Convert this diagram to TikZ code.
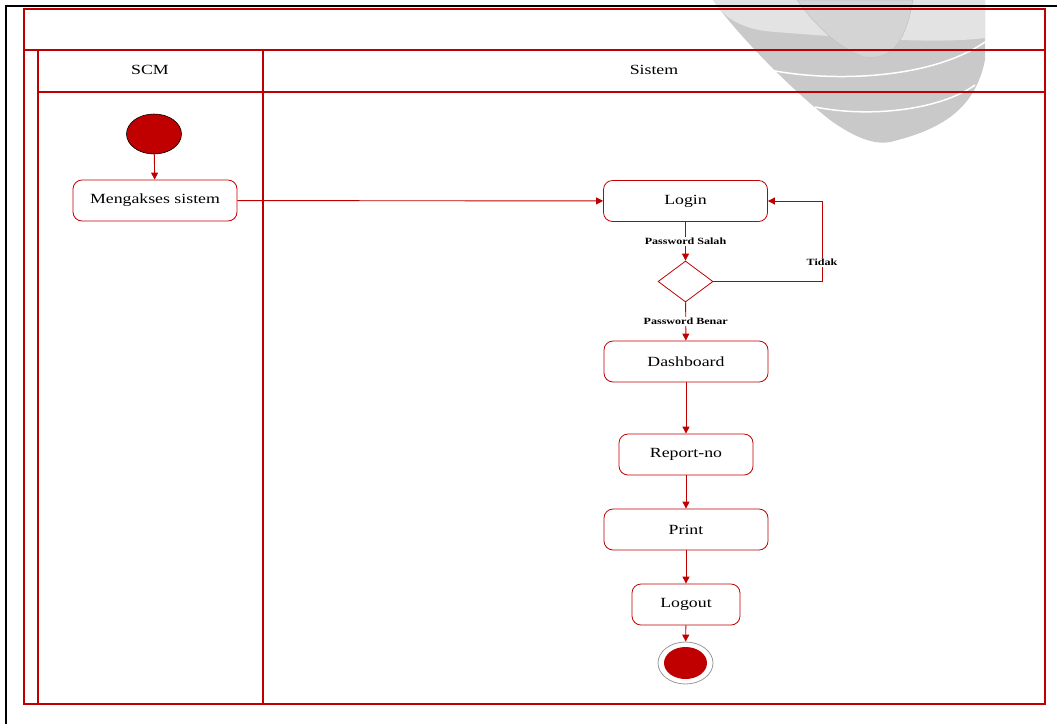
\documentclass[tikz,border=0pt]{standalone}
\usepackage{fontspec}
\setmainfont[FakeStretch=1.27]{Liberation Serif}
\usetikzlibrary{arrows.meta,shapes.geometric}
\definecolor{dred}{HTML}{C00000}
\begin{document}
\begin{tikzpicture}[x=1pt,y=-1pt,
  act/.style={draw=dred, line width=0.8pt, rounded corners=9pt, minimum width=164pt, minimum height=41pt, fill=white, inner sep=0pt, font=\fontsize{14}{16}\selectfont},
  flow/.style={draw=dred, line width=0.9pt, -{Triangle[length=7pt,width=7pt]}},
  lbl/.style={fill=white, inner sep=1pt, font=\fontsize{9.5}{11}\selectfont\bfseries},
  lane/.style={draw=dred, line width=1.6pt},
  hdr/.style={font=\fontsize{14}{16}\selectfont}]
\useasboundingbox (0,0) rectangle (1057,724);
% watermark
\fill[black!21] (713,0) .. controls (730,25) and (780,80) .. (830,120) .. controls (855,138) and (875,145) .. (890,142) .. controls (940,130) and (975,110) .. (985,60) -- (985,0) -- cycle;
\fill[black!11] (713,0) .. controls (725,20) and (745,30) .. (775,32) .. controls (830,36) and (930,45) .. (985,38) -- (985,0) -- cycle;
\filldraw[fill=black!17, draw=black!24, line width=0.5pt] (797,0) .. controls (815,25) and (840,50) .. (865,57) .. controls (890,60) and (905,45) .. (913,0) -- cycle;
\draw[white, line width=1.5pt] (770,70) .. controls (830,82) and (930,80) .. (985,42);
\draw[white, line width=1.5pt] (815,107) .. controls (870,118) and (940,110) .. (975,85);
% page frame
\draw[line width=2pt] (6,724) -- (6,6) -- (1057,6);
% swimlanes
\draw[lane] (24,9) rectangle (1045,704);
\draw[lane] (24,50) -- (1045,50);
\draw[lane] (38,50) -- (38,704);
\draw[lane] (38,92) -- (1045,92);
\draw[lane] (263,50) -- (263,704);
\node[hdr] (hscm) at (150,70) {SCM};
\node[hdr] (hsis) at (654,70) {Sistem};
% nodes
\node[ellipse, fill=dred, draw=black, line width=0.6pt, minimum width=55pt, minimum height=40pt, inner sep=0pt] (start) at (154,134) {};
\node[act] (akses) at (155,200.5) {Mengakses sistem};
\node[act] (login) at (685.5,201) {Login};
\node[diamond, draw=dred, line width=0.8pt, minimum width=55pt, minimum height=41pt, inner sep=0pt, fill=white] (dec) at (685.5,281.5) {};
\node[act] (dash) at (686,361.5) {Dashboard};
\node[act, minimum width=134pt] (rep) at (686,454.5) {Report-no};
\node[act] (print) at (686,529.5) {Print};
\node[act, minimum width=108pt] (logout) at (686,604.5) {Logout};
\node[ellipse, draw=black!40, line width=0.8pt, fill=white, minimum width=55pt, minimum height=42pt, inner sep=0pt] (endo) at (685.5,663) {};
\node[ellipse, fill=dred, minimum width=43pt, minimum height=32pt, inner sep=0pt] (endi) at (685.5,663) {};
\coordinate (tr) at (822,201);
% connectors
\draw[flow] (start) -- (akses);
\draw[flow] (akses) -- (login);
\draw[flow] (login) -- node[lbl] {Password Salah} (dec);
\draw[flow] (dec.east) -| node[lbl, pos=0.62] {Tidak} (tr) -- (login.east);
\draw[flow] (dec) -- node[lbl] {Password Benar} (dash);
\draw[flow] (dash) -- (rep);
\draw[flow] (rep) -- (print);
\draw[flow] (print) -- (logout);
\draw[flow] (logout) -- (endo);
\end{tikzpicture}
\end{document}
